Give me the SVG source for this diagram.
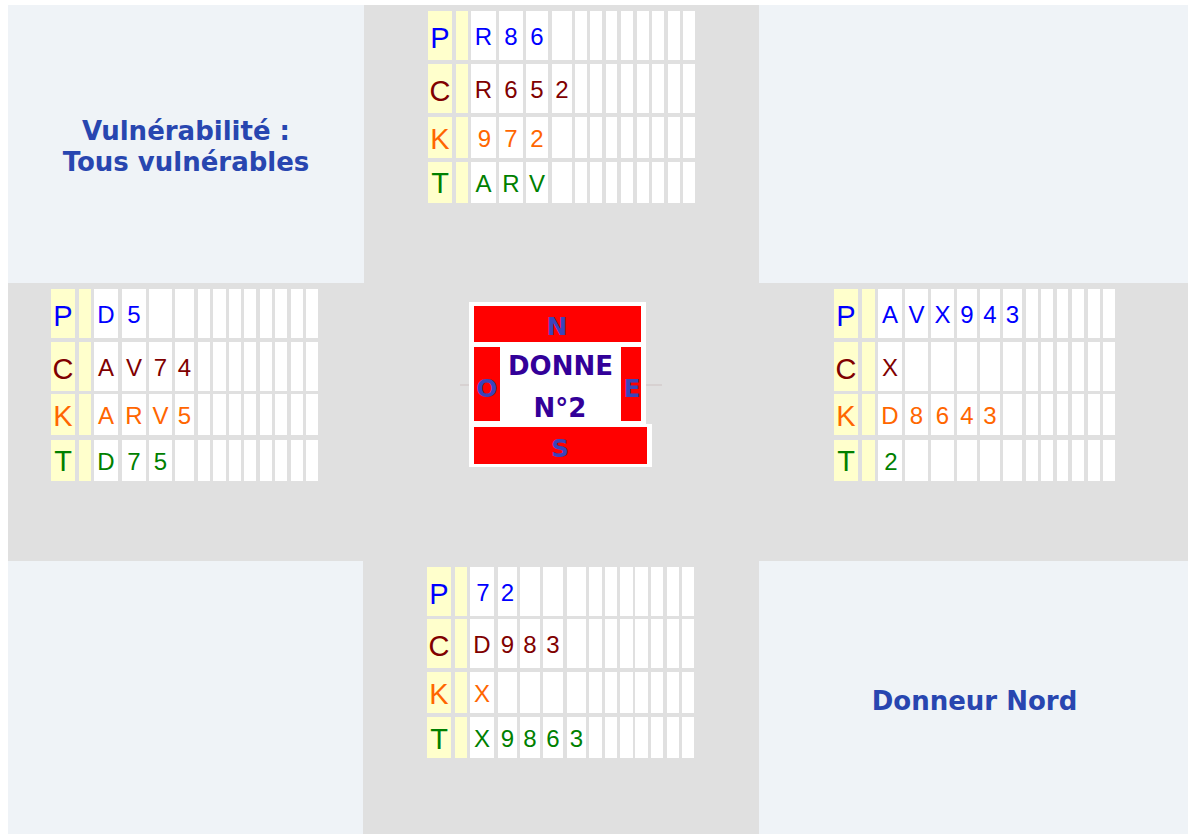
<svg xmlns="http://www.w3.org/2000/svg" width="1188" height="834" viewBox="0 0 1188 834">
<style>
.lt{fill:#eff3f7}
.gr{fill:#e0e0e0}
.y{fill:#ffffcc}
.w{fill:#ffffff}
.red{fill:#ff0000}
.suit{font-family:"Liberation Sans",Arial,sans-serif;font-size:29px;text-anchor:middle}
.card{font-family:"Liberation Sans",Arial,sans-serif;font-size:24px;text-anchor:middle}
.sp{fill:#0000ff}
.co{fill:#800000}
.ka{fill:#ff6600}
.tr{fill:#008000}
.info{font-family:"DejaVu Sans",Verdana,sans-serif;font-weight:bold;font-size:26px;fill:#2846b0;text-anchor:middle}
.dir{font-family:"DejaVu Sans",Verdana,sans-serif;font-weight:bold;font-size:25px;fill:#3a44bb;text-anchor:middle}
.title{font-family:"DejaVu Sans",Verdana,sans-serif;font-weight:bold;font-size:26px;fill:#330099;text-anchor:middle}
</style>
<rect x="0" y="0" width="1188" height="834" fill="#ffffff"/>
<g id="table">
<rect class="gr" x="8" y="5" width="1180" height="829"/>
<rect class="lt" x="8" y="5" width="356" height="278"/>
<rect class="lt" x="759" y="5" width="429" height="278"/>
<rect class="lt" x="8" y="561" width="355" height="273"/>
<rect class="lt" x="759" y="561" width="429" height="273"/>
</g>
<g id="vulnerabilite">
<text class="info" x="186" y="140">Vulnérabilité :</text>
<text class="info" x="186" y="171">Tous vulnérables</text>
</g>
<g id="donneur">
<text class="info" x="974.5" y="710">Donneur Nord</text>
</g>
<g id="nord">
<rect class="y" x="428" y="11" width="24" height="192"/>
<rect class="y" x="456" y="11" width="12" height="192"/>
<rect class="w" x="471" y="11" width="25" height="192"/>
<rect class="w" x="499" y="11" width="24" height="192"/>
<rect class="w" x="526" y="11" width="22" height="192"/>
<rect class="w" x="552" y="11" width="20" height="192"/>
<rect class="w" x="575" y="11" width="12" height="192"/>
<rect class="w" x="590" y="11" width="12" height="192"/>
<rect class="w" x="606" y="11" width="11" height="192"/>
<rect class="w" x="621" y="11" width="12" height="192"/>
<rect class="w" x="637" y="11" width="12" height="192"/>
<rect class="w" x="652" y="11" width="12" height="192"/>
<rect class="w" x="668" y="11" width="12" height="192"/>
<rect class="w" x="683" y="11" width="12" height="192"/>
<rect class="gr" x="425" y="60" width="272" height="4"/>
<rect class="gr" x="425" y="113" width="272" height="4"/>
<rect class="gr" x="425" y="158" width="272" height="4"/>
<text class="suit sp" x="440" y="48">P</text>
<text class="suit co" x="440" y="101">C</text>
<text class="suit ka" x="440" y="149">K</text>
<text class="suit tr" x="440" y="193">T</text>
<g class="card sp"><text x="483.5" y="45">R</text><text x="511" y="45">8</text><text x="537" y="45">6</text></g>
<g class="card co"><text x="483.5" y="98">R</text><text x="511" y="98">6</text><text x="537" y="98">5</text><text x="562" y="98">2</text></g>
<g class="card ka"><text x="484.5" y="147">9</text><text x="511" y="147">7</text><text x="537" y="147">2</text></g>
<g class="card tr"><text x="483.5" y="192">A</text><text x="511" y="192">R</text><text x="537" y="192">V</text></g>
</g>
<g id="ouest">
<rect class="y" x="51" y="289" width="24" height="192"/>
<rect class="y" x="79" y="289" width="12" height="192"/>
<rect class="w" x="94" y="289" width="24" height="192"/>
<rect class="w" x="122" y="289" width="24" height="192"/>
<rect class="w" x="149" y="289" width="23" height="192"/>
<rect class="w" x="175" y="289" width="19" height="192"/>
<rect class="w" x="198" y="289" width="12" height="192"/>
<rect class="w" x="213" y="289" width="13" height="192"/>
<rect class="w" x="229" y="289" width="12" height="192"/>
<rect class="w" x="244" y="289" width="12" height="192"/>
<rect class="w" x="260" y="289" width="12" height="192"/>
<rect class="w" x="275" y="289" width="12" height="192"/>
<rect class="w" x="291" y="289" width="12" height="192"/>
<rect class="w" x="306" y="289" width="12" height="192"/>
<rect class="gr" x="48" y="338" width="274" height="4"/>
<rect class="gr" x="48" y="391" width="274" height="3"/>
<rect class="gr" x="48" y="435" width="274" height="5"/>
<text class="suit sp" x="63" y="326">P</text>
<text class="suit co" x="63" y="379">C</text>
<text class="suit ka" x="63" y="426">K</text>
<text class="suit tr" x="63" y="471">T</text>
<g class="card sp"><text x="106" y="323">D</text><text x="134" y="323">5</text></g>
<g class="card co"><text x="106" y="376">A</text><text x="134" y="376">V</text><text x="160.5" y="376">7</text><text x="184.5" y="376">4</text></g>
<g class="card ka"><text x="106" y="424">A</text><text x="134" y="424">R</text><text x="160.5" y="424">V</text><text x="184.5" y="424">5</text></g>
<g class="card tr"><text x="106" y="470">D</text><text x="134" y="470">7</text><text x="160.5" y="470">5</text></g>
</g>
<g id="est">
<rect class="y" x="834" y="289" width="24" height="192"/>
<rect class="y" x="862" y="289" width="13" height="192"/>
<rect class="w" x="878" y="289" width="24" height="192"/>
<rect class="w" x="905" y="289" width="23" height="192"/>
<rect class="w" x="931" y="289" width="23" height="192"/>
<rect class="w" x="957" y="289" width="20" height="192"/>
<rect class="w" x="980" y="289" width="20" height="192"/>
<rect class="w" x="1003" y="289" width="19" height="192"/>
<rect class="w" x="1026" y="289" width="12" height="192"/>
<rect class="w" x="1041" y="289" width="12" height="192"/>
<rect class="w" x="1057" y="289" width="11" height="192"/>
<rect class="w" x="1072" y="289" width="12" height="192"/>
<rect class="w" x="1088" y="289" width="12" height="192"/>
<rect class="w" x="1103" y="289" width="12" height="192"/>
<rect class="gr" x="831" y="338" width="290" height="4"/>
<rect class="gr" x="831" y="391" width="290" height="3"/>
<rect class="gr" x="831" y="435" width="290" height="5"/>
<text class="suit sp" x="846" y="326">P</text>
<text class="suit co" x="846" y="379">C</text>
<text class="suit ka" x="846" y="426">K</text>
<text class="suit tr" x="846" y="471">T</text>
<g class="card sp"><text x="890" y="323">A</text><text x="916.5" y="323">V</text><text x="942.5" y="323">X</text><text x="967" y="323">9</text><text x="990" y="323">4</text><text x="1012.5" y="323">3</text></g>
<g class="card co"><text x="890" y="376">X</text></g>
<g class="card ka"><text x="890" y="424">D</text><text x="916.5" y="424">8</text><text x="942.5" y="424">6</text><text x="967" y="424">4</text><text x="990" y="424">3</text></g>
<g class="card tr"><text x="891" y="470">2</text></g>
</g>
<g id="sud">
<rect class="y" x="427" y="567" width="24" height="191"/>
<rect class="y" x="455" y="567" width="12" height="191"/>
<rect class="w" x="470" y="567" width="24" height="191"/>
<rect class="w" x="498" y="567" width="19" height="191"/>
<rect class="w" x="520" y="567" width="20" height="191"/>
<rect class="w" x="543" y="567" width="20" height="191"/>
<rect class="w" x="567" y="567" width="19" height="191"/>
<rect class="w" x="589" y="567" width="13" height="191"/>
<rect class="w" x="605" y="567" width="12" height="191"/>
<rect class="w" x="620" y="567" width="13" height="191"/>
<rect class="w" x="635" y="567" width="13" height="191"/>
<rect class="w" x="651" y="567" width="12" height="191"/>
<rect class="w" x="667" y="567" width="12" height="191"/>
<rect class="w" x="682" y="567" width="12" height="191"/>
<rect class="gr" x="424" y="616" width="273" height="3"/>
<rect class="gr" x="424" y="668" width="273" height="4"/>
<rect class="gr" x="424" y="713" width="273" height="4"/>
<text class="suit sp" x="439" y="604">P</text>
<text class="suit co" x="439" y="656">C</text>
<text class="suit ka" x="439" y="704">K</text>
<text class="suit tr" x="439" y="749">T</text>
<g class="card sp"><text x="483" y="601">7</text><text x="507.5" y="601">2</text></g>
<g class="card co"><text x="482" y="653">D</text><text x="507.5" y="653">9</text><text x="530" y="653">8</text><text x="553" y="653">3</text></g>
<g class="card ka"><text x="482" y="702">X</text></g>
<g class="card tr"><text x="482" y="747">X</text><text x="507.5" y="747">9</text><text x="530" y="747">8</text><text x="553" y="747">6</text><text x="576.5" y="747">3</text></g>
</g>
<g id="boussole">
<line x1="460" y1="385" x2="662" y2="385" stroke="#d4cccc" stroke-width="1.5"/>
<rect class="w" x="469" y="302" width="177" height="124"/>
<rect class="w" x="469" y="424" width="183" height="43"/>
<rect class="red" x="474" y="306" width="167" height="36"/>
<rect class="red" x="474" y="347" width="26" height="74"/>
<rect class="red" x="621" y="347" width="20" height="74"/>
<rect class="red" x="474" y="427" width="173" height="37"/>
<text class="dir" x="557" y="335">N</text>
<text class="dir" x="487" y="396.5">O</text>
<text class="dir" x="632" y="396.5">E</text>
<text class="dir" x="560" y="457">S</text>
<text class="title" x="560.5" y="375">DONNE</text>
<text class="title" x="560" y="416.5">N°2</text>
</g>
</svg>
